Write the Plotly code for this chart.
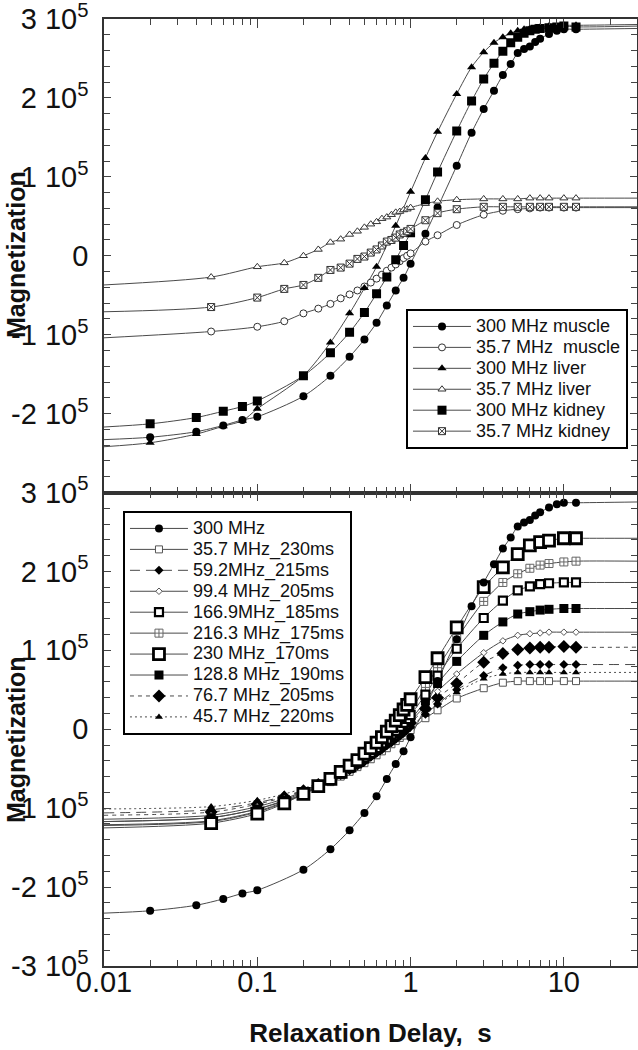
import plotly.graph_objects as go

SCALE = 1e5  # values below are in units of 10^5

# ---------------- delays (s) ----------------
X_300 = [0.02, 0.04, 0.06, 0.08, 0.1, 0.2, 0.3, 0.4, 0.5, 0.6, 0.7, 0.8, 0.9, 1.0,
         1.25, 1.5, 2, 2.5, 3, 3.5, 4, 4.5, 5, 5.5, 6, 6.5, 7, 8, 9, 10, 12]
X_LIVER300 = [0.02, 0.04, 0.06, 0.08, 0.1, 0.2, 0.3, 0.4, 0.5, 0.6, 0.8, 1.0,
              1.25, 1.5, 2, 2.5, 3, 3.5, 4, 4.5, 5, 5.5, 6, 6.5, 7, 8, 10, 12]
X_LOW = [0.05, 0.1, 0.15, 0.2, 0.25, 0.3, 0.35, 0.4, 0.45, 0.5, 0.55, 0.6, 0.65, 0.7,
         0.75, 0.8, 0.85, 0.9, 0.95, 1.0, 1.25, 1.5, 2, 3, 4, 5, 6, 7, 8, 10, 12]
FIT_X0 = 0.01
FIT_X1 = 30

# ---------------- top panel (tissues) ----------------
M300_MUSCLE = [-2.30, -2.23, -2.15, -2.08, -2.04, -1.78, -1.52, -1.28, -1.06, -0.85, -0.63, -0.44,
               -0.28, -0.10, 0.28, 0.61, 1.14, 1.56, 1.86, 2.09, 2.29, 2.43, 2.57, 2.62, 2.65,
               2.71, 2.75, 2.81, 2.85, 2.87, 2.87]
M300_LIVER = [-2.37, -2.26, -2.16, -2.09, -1.94, -1.52, -1.10, -0.73, -0.41, -0.14, 0.38, 0.81,
              1.24, 1.57, 2.05, 2.39, 2.58, 2.70, 2.77, 2.82, 2.85, 2.87, 2.88, 2.89, 2.90,
              2.91, 2.92, 2.92]
M300_KIDNEY = [-2.13, -2.05, -1.97, -1.91, -1.84, -1.52, -1.23, -0.97, -0.72, -0.48, -0.27, -0.05,
               0.13, 0.29, 0.71, 1.06, 1.58, 1.96, 2.24, 2.44, 2.59, 2.70, 2.77, 2.82, 2.85,
               2.87, 2.88, 2.89, 2.90, 2.91, 2.90]
M35_MUSCLE = [-0.96, -0.90, -0.83, -0.73, -0.67, -0.61, -0.54, -0.49, -0.44, -0.39, -0.34, -0.29,
              -0.24, -0.19, -0.15, -0.11, -0.07, -0.03, 0.00, 0.03, 0.18, 0.26, 0.39, 0.52,
              0.57, 0.59, 0.60, 0.61, 0.61, 0.61, 0.61]
M35_LIVER = [-0.27, -0.14, -0.09, 0.00, 0.08, 0.17, 0.21, 0.27, 0.31, 0.36, 0.40, 0.43, 0.47,
             0.49, 0.52, 0.55, 0.56, 0.58, 0.59, 0.61, 0.66, 0.69, 0.71, 0.72, 0.72, 0.72,
             0.73, 0.73, 0.73, 0.73, 0.73]
M35_KIDNEY = [-0.65, -0.53, -0.42, -0.37, -0.28, -0.18, -0.15, -0.10, -0.04, -0.01, 0.04, 0.08,
              0.13, 0.18, 0.20, 0.23, 0.27, 0.29, 0.31, 0.34, 0.45, 0.54, 0.59, 0.62, 0.62,
              0.62, 0.62, 0.62, 0.62, 0.62, 0.62]
# fitted curve values at FIT_X0 and FIT_X1
TOP_FIT0 = {"muscle300": -2.33, "muscle35": -1.04, "liver300": -2.42,
            "liver35": -0.37, "kidney300": -2.17, "kidney35": -0.71}
TOP_FIT1 = {"muscle300": 2.88, "muscle35": 0.61, "liver300": 2.93,
            "liver35": 0.73, "kidney300": 2.91, "kidney35": 0.62}

# ---------------- bottom panel (fields) ----------------
F35_7 = [-1.12, -1.01, -0.91, -0.82, -0.74, -0.67, -0.60, -0.54, -0.48, -0.43, -0.38, -0.33,
         -0.28, -0.24, -0.19, -0.15, -0.11, -0.08, -0.04, -0.01, 0.14, 0.24, 0.39, 0.52,
         0.59, 0.61, 0.61, 0.61, 0.61, 0.61, 0.61]
F59_2 = [-1.02, -0.93, -0.85, -0.77, -0.70, -0.63, -0.57, -0.51, -0.46, -0.40, -0.35, -0.30,
         -0.26, -0.21, -0.17, -0.13, -0.09, -0.05, -0.01, 0.03, 0.19, 0.32, 0.50, 0.68,
         0.78, 0.81, 0.82, 0.82, 0.82, 0.82, 0.82]
F99_4 = [-1.09, -0.98, -0.88, -0.79, -0.71, -0.63, -0.56, -0.50, -0.44, -0.38, -0.33, -0.27,
         -0.22, -0.17, -0.13, -0.08, -0.04, 0.01, 0.05, 0.10, 0.30, 0.48, 0.70, 0.97,
         1.12, 1.19, 1.21, 1.22, 1.23, 1.23, 1.23]
F166_9 = [-1.16, -1.04, -0.92, -0.82, -0.72, -0.64, -0.56, -0.49, -0.42, -0.36, -0.30, -0.24,
          -0.18, -0.13, -0.07, -0.02, 0.03, 0.08, 0.13, 0.18, 0.44, 0.68, 1.02, 1.41,
          1.63, 1.76, 1.81, 1.84, 1.85, 1.86, 1.86]
F216_3 = [-1.17, -1.05, -0.93, -0.82, -0.72, -0.63, -0.55, -0.48, -0.41, -0.34, -0.28, -0.22,
          -0.16, -0.10, -0.04, 0.02, 0.08, 0.13, 0.19, 0.24, 0.53, 0.78, 1.15, 1.62,
          1.86, 1.97, 2.04, 2.08, 2.10, 2.12, 2.13]
F230 = [-1.19, -1.07, -0.94, -0.82, -0.72, -0.63, -0.54, -0.46, -0.39, -0.31, -0.24, -0.17,
        -0.10, -0.03, 0.04, 0.11, 0.18, 0.25, 0.31, 0.38, 0.66, 0.90, 1.29, 1.80,
        2.05, 2.22, 2.33, 2.37, 2.39, 2.42, 2.42]
F128_8 = [-1.12, -1.01, -0.90, -0.80, -0.72, -0.64, -0.57, -0.50, -0.44, -0.38, -0.32, -0.27,
          -0.21, -0.16, -0.11, -0.06, -0.02, 0.03, 0.08, 0.12, 0.36, 0.58, 0.86, 1.19,
          1.36, 1.46, 1.49, 1.51, 1.52, 1.53, 1.53]
F76_7 = [-1.05, -0.95, -0.86, -0.78, -0.70, -0.63, -0.56, -0.50, -0.44, -0.39, -0.33, -0.28,
         -0.23, -0.18, -0.14, -0.09, -0.05, -0.01, 0.04, 0.08, 0.26, 0.40, 0.58, 0.85,
         0.96, 1.01, 1.03, 1.04, 1.04, 1.05, 1.04]
F45_7 = [-0.98, -0.90, -0.82, -0.75, -0.68, -0.62, -0.56, -0.50, -0.45, -0.40, -0.35, -0.30,
         -0.26, -0.21, -0.17, -0.13, -0.09, -0.05, -0.01, 0.03, 0.18, 0.31, 0.47, 0.64,
         0.70, 0.72, 0.72, 0.72, 0.72, 0.72, 0.72]
BOT_FIT0 = {"300": -2.33, "35.7": -1.17, "59.2": -1.06, "99.4": -1.14, "166.9": -1.21,
            "216.3": -1.22, "230": -1.25, "128.8": -1.17, "76.7": -1.09, "45.7": -1.01}
BOT_FIT1 = {"300": 2.88, "35.7": 0.61, "59.2": 0.82, "99.4": 1.23, "166.9": 1.86,
            "216.3": 2.13, "230": 2.42, "128.8": 1.53, "76.7": 1.04, "45.7": 0.72}

# ---------------- ticks ----------------
X_TICKS = [0.01, 0.1, 1, 10]
X_TICK_TEXT = ["0.01", "0.1", "1", "10"]
X_MINOR = [m * d for d in (0.01, 0.1, 1, 10) for m in range(2, 10) if m * d <= 30]
Y_TICKS_TOP = [3, 2, 1, 0, -1, -2]
Y_TICKS_BOT = [3, 2, 1, 0, -1, -2, -3]


def ytext(v):
    return "0" if v == 0 else f"{v} 10<sup>5</sup>"


FONT = "Liberation Sans, Arial, sans-serif"
LINE_COL = "#4a4a4a"
LEG_TEXT_PX = 18

fig = go.Figure()

# style per series: (symbol, size, fill, edge colour, edge width)
TOP_SERIES = [
    ("300 MHz muscle", X_300, M300_MUSCLE, "muscle300", ("circle", 8, "black", "black", 0)),
    ("35.7 MHz\u00a0 muscle", X_LOW, M35_MUSCLE, "muscle35", ("circle", 7, "white", "#333", 1)),
    ("300 MHz liver", X_LIVER300, M300_LIVER, "liver300", ("triangle-up", 8, "black", "black", 0)),
    ("35.7 MHz liver", X_LOW, M35_LIVER, "liver35", ("triangle-up", 7, "white", "#333", 1)),
    ("300 MHz kidney", X_300, M300_KIDNEY, "kidney300", ("square", 9, "black", "black", 0)),
    ("35.7 MHz kidney", X_LOW, M35_KIDNEY, "kidney35", ("square-x", 7, "white", "#333", 1)),
]

BOT_SERIES = [
    ("300 MHz", X_300, M300_MUSCLE, "300", ("circle", 8, "black", "black", 0), "solid"),
    ("35.7 MHz_230ms", X_LOW, F35_7, "35.7", ("square", 7, "white", "#555", 1), "solid"),
    ("59.2MHz_215ms", X_LOW, F59_2, "59.2", ("diamond", 7, "black", "black", 0), "10px,6px"),
    ("99.4 MHz_205ms", X_LOW, F99_4, "99.4", ("diamond", 5, "white", "#555", 1), "solid"),
    ("166.9MHz_185ms", X_LOW, F166_9, "166.9", ("square", 8, "white", "black", 2.2), "solid"),
    ("216.3 MHz_175ms", X_LOW, F216_3, "216.3", ("square-cross", 8, "white", "#666", 1), "solid"),
    ("230 MHz_170ms", X_LOW, F230, "230", ("square", 11, "white", "black", 2.8), "solid"),
    ("128.8 MHz_190ms", X_LOW, F128_8, "128.8", ("square", 9, "black", "black", 0), "solid"),
    ("76.7 MHz_205ms", X_LOW, F76_7, "76.7", ("diamond", 10, "black", "black", 0), "4px,4px"),
    ("45.7 MHz_220ms", X_LOW, F45_7, "45.7", ("triangle-up", 7, "black", "black", 0), "2px,3px"),
]


def marker_dict(st):
    sym, size, fill, edge, ew = st
    return dict(symbol=sym, size=size, color=fill, line=dict(color=edge, width=ew))


def add_fit(xs, ys, y0, y1, xa, ya, dash):
    fig.add_trace(go.Scatter(
        x=[FIT_X0] + list(xs) + [FIT_X1],
        y=[v * SCALE for v in [y0] + list(ys) + [y1]],
        mode="lines", line=dict(color=LINE_COL, width=1, dash=dash, shape="spline", smoothing=0.8),
        xaxis=xa, yaxis=ya, showlegend=False, hoverinfo="skip"))


def add_markers(name, xs, ys, st, xa, ya):
    fig.add_trace(go.Scatter(
        x=xs, y=[v * SCALE for v in ys], mode="markers", name=name,
        marker=marker_dict(st), xaxis=xa, yaxis=ya, showlegend=False))


def add_legend(name, st, dash, legend, xa, ya):
    fig.add_trace(go.Scatter(
        x=[None], y=[None], mode="lines+markers",
        name=f"<span style='font-size:{LEG_TEXT_PX}px'>{name}</span>",
        line=dict(color=LINE_COL, width=1, dash=dash), marker=marker_dict(st),
        xaxis=xa, yaxis=ya, legend=legend, showlegend=True))


# top panel
for name, xs, ys, key, st in TOP_SERIES:
    add_fit(xs, ys, TOP_FIT0[key], TOP_FIT1[key], "x", "y", "solid")
for name, xs, ys, key, st in TOP_SERIES:
    add_markers(name, xs, ys, st, "x", "y")
for name, xs, ys, key, st in TOP_SERIES:
    add_legend(name, st, "solid", "legend", "x", "y")

# bottom panel
for name, xs, ys, key, st, dash in BOT_SERIES:
    add_fit(xs, ys, BOT_FIT0[key], BOT_FIT1[key], "x2", "y2", dash)
draw_order = ["35.7", "45.7", "59.2", "76.7", "99.4", "128.8", "216.3", "166.9", "230", "300"]
for k in draw_order:
    for name, xs, ys, key, st, dash in BOT_SERIES:
        if key == k:
            add_markers(name, xs, ys, st, "x2", "y2")
for name, xs, ys, key, st, dash in BOT_SERIES:
    add_legend(name, st, dash, "legend2", "x2", "y2")

axis_common = dict(
    showline=True, linecolor="#333", linewidth=1.5, mirror="allticks", automargin=False,
    ticks="inside", tickcolor="#444", tickwidth=1, showgrid=False, zeroline=False,
    ticklabeloverflow="allow",
    tickfont=dict(family=FONT, size=29, color="#111"),
)
minor_x = dict(tickmode="array", tickvals=X_MINOR, ticks="inside", ticklen=6,
               tickcolor="#444", showgrid=False)
minor_y = dict(dtick=0.2 * SCALE, ticks="inside", ticklen=6, tickcolor="#444", showgrid=False)

xr = [-2, 1.4771]
leg_common = dict(xanchor="left", yanchor="top", bgcolor="white", bordercolor="black",
                  borderwidth=2, itemwidth=58, tracegroupgap=0,
                  font=dict(family=FONT, size=13.8, color="#111"))
fig.update_layout(
    template="none",
    width=638, height=1050, autosize=False,
    margin=dict(l=104, r=1, t=19, b=84),
    paper_bgcolor="white", plot_bgcolor="white",
    font=dict(family=FONT, color="black"),
    xaxis=dict(type="log", range=xr, domain=[0, 1], anchor="y", tickmode="array",
               tickvals=X_TICKS, ticktext=X_TICK_TEXT, showticklabels=False, ticklen=9,
               minor=minor_x, **axis_common),
    xaxis2=dict(type="log", range=xr, domain=[0, 1], anchor="y2", matches="x", tickmode="array",
                tickvals=X_TICKS, ticktext=X_TICK_TEXT, ticklen=9, ticklabelstandoff=-11,
                minor=minor_x,
                title=dict(text="<b>Relaxation Delay,\u00a0 s</b>", standoff=27,
                           font=dict(family=FONT, size=26, color="#111")),
                **axis_common),
    yaxis=dict(range=[-3 * SCALE, 3 * SCALE], domain=[0.5, 1], anchor="x", tickmode="array",
               tickvals=[v * SCALE for v in Y_TICKS_TOP], ticktext=[ytext(v) for v in Y_TICKS_TOP],
               ticklen=7, ticklabelstandoff=8, minor=minor_y, **axis_common),
    yaxis2=dict(range=[-3 * SCALE, 3 * SCALE], domain=[0, 0.5], anchor="x2", tickmode="array",
                tickvals=[v * SCALE for v in Y_TICKS_BOT], ticktext=[ytext(v) for v in Y_TICKS_BOT],
                ticklen=7, ticklabelstandoff=8, minor=minor_y, **axis_common),
    legend=dict(x=0.5666, y=0.6938, **leg_common),
    legend2=dict(x=0.0356, y=0.4805, **leg_common),
    annotations=[
        dict(text="<b>Magnetization</b>", xref="paper", yref="paper", x=-0.1651, y=0.7508,
             xanchor="center", yanchor="middle", textangle=-90, showarrow=False,
             font=dict(family=FONT, size=25, color="#111")),
        dict(text="<b>Magnetization</b>", xref="paper", yref="paper", x=-0.1651, y=0.2386,
             xanchor="center", yanchor="middle", textangle=-90, showarrow=False,
             font=dict(family=FONT, size=25, color="#111")),
    ],
)

# remove the page's default 8px body margin so the figure sits at the window's corner
fig.write_html("out.html", config={"displayModeBar": False},
               post_script="document.body.style.margin='0';")
